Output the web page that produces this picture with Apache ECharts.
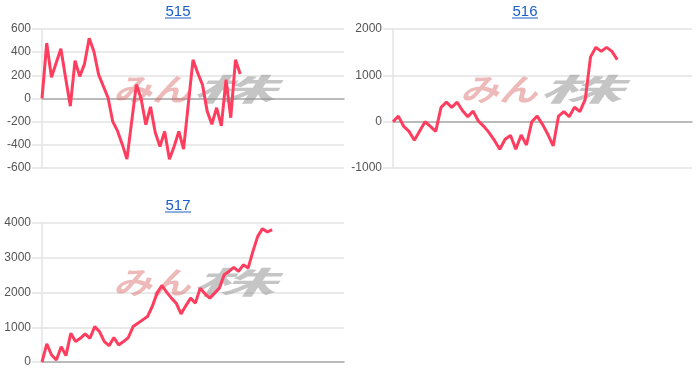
<!DOCTYPE html>
<html>
<head>
<meta charset="utf-8">
<script src="https://cdn.jsdelivr.net/npm/echarts@6/dist/echarts.min.js"></script>
<style>html,body{margin:0;padding:0;background:#fff;}#c{width:700px;height:386px;}</style>
</head>
<body>
<div id="c"></div>
<script>
// ---- data ----
const titles = ['515', '516', '517'];
const values515 = [0,477,183,306,429,180,-66,326,191,297,520,406,206,106,6,-200,-280,-394,-523,-200,120,0,-226,-72,-293,-414,-284,-525,-414,-284,-437,-50,334,220,120,-109,-223,-80,-237,163,-166,334,211];
const values516 = [0,120,-100,-210,-400,-200,0,-100,-210,310,420,310,420,240,107,228,10,-100,-237,-405,-595,-380,-295,-595,-288,-503,0,120,-58,-273,-524,120,215,107,314,215,480,1398,1604,1518,1604,1518,1340];
const values517 = [0,519,202,58,442,183,827,587,683,808,683,1019,875,587,471,702,490,587,702,1019,1115,1212,1308,1597,1982,2202,2010,1838,1693,1385,1616,1838,1693,2126,1962,1838,1982,2126,2510,2605,2721,2605,2798,2702,3183,3615,3837,3741,3808];
const slots515 = 65, slots516 = 57, slots517 = 64;
const yTicks515 = {min: -600, max: 600, interval: 200};
const yTicks516 = {min: -1000, max: 2000, interval: 1000};
const yTicks517 = {min: 0, max: 4000, interval: 1000};

const cats = n => Array.from({length: n}, (_, i) => String(i));

const chart = echarts.init(document.getElementById('c'), null, {renderer: 'canvas'});
const FONT = 'Liberation Sans, Arial, sans-serif';
const LINK = '#1a5fc8';
const LINE = '#ff3d5f';

const grids = [
  {left: 42, top: 29, width: 302, height: 139},
  {left: 393, top: 29, width: 299, height: 139},
  {left: 42, top: 223, width: 302, height: 139}
];
const slots = [slots515, slots516, slots517];
const yts = [yTicks515, yTicks516, yTicks517];
const vals = [values515, values516, values517];

const xAxis = grids.map((g, i) => ({
  type: 'category', gridIndex: i, data: cats(slots[i]), boundaryGap: false,
  axisLabel: {show: false}, axisTick: {show: false}, splitLine: {show: false},
  axisLine: {show: true, onZero: true, lineStyle: {color: '#aaaaaa', width: 1.5}}
}));
const yAxis = grids.map((g, i) => ({
  type: 'value', gridIndex: i, min: yts[i].min, max: yts[i].max, interval: yts[i].interval,
  axisLine: {show: true, lineStyle: {color: '#e3e3e3', width: 1.5}},
  axisTick: {show: true, length: 10, lineStyle: {color: '#e3e3e3', width: 1.5}},
  splitLine: {show: true, lineStyle: {color: '#e3e3e3', width: 1.5}},
  axisLabel: {color: '#555', fontSize: 12, fontFamily: FONT, margin: 11, formatter: v => String(v)}
}));
const series = vals.map((v, i) => ({
  type: 'line', xAxisIndex: i, yAxisIndex: i, data: v, showSymbol: false,
  lineStyle: {color: LINE, width: 3}, itemStyle: {color: LINE}, z: 5, silent: true
}));

const titleX = [178, 525, 178];
const titleY = [11.5, 11.5, 205.5];

const graphic = [];
titles.forEach((t, i) => {
  graphic.push({type: 'text', x: titleX[i], y: titleY[i], z: 10,
    style: {text: t, fill: LINK, font: '15px "Liberation Sans", Arial, sans-serif', textAlign: 'center', textVerticalAlign: 'middle'}});
  // underline of link-style title
  graphic.push({type: 'line', shape: {x1: titleX[i] - 13, y1: titleY[i] + 6.5, x2: titleX[i] + 13, y2: titleY[i] + 6.5},
    style: {stroke: LINK, lineWidth: 1}, z: 10});
});
// watermark logos
const wm = [[113, 89], [460, 89], [113, 282.5]];
wm.forEach(([x, y]) => {
  graphic.push({type: 'text', x: x, y: y, scaleX: 1.25, z: 1, silent: true,
    style: {text: 'みん', fill: 'rgba(214,100,100,0.45)', font: 'italic bold 31px "Noto Sans CJK JP"', textVerticalAlign: 'middle', textAlign: 'left'}});
  graphic.push({type: 'text', x: x + 78, y: y, scaleX: 2.7, z: 1, silent: true,
    style: {text: '株', fill: 'rgba(150,150,150,0.55)', font: 'italic bold 31px "Noto Sans CJK JP"', textVerticalAlign: 'middle', textAlign: 'left'}});
});

chart.setOption({
  animation: false,
  backgroundColor: '#fff',
  grid: grids, xAxis, yAxis, series, graphic
});
</script>
</body>
</html>
